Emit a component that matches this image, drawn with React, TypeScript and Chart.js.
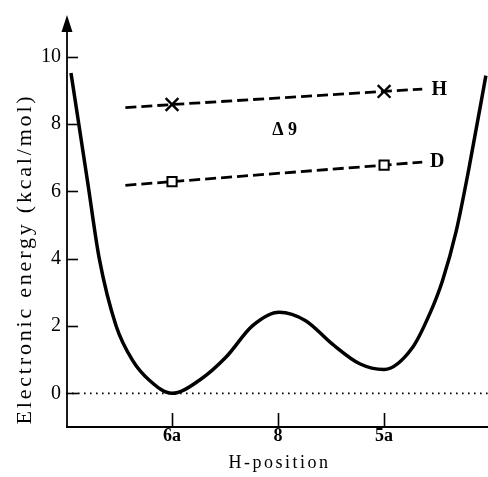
import { useEffect, useRef } from "react";
import { Chart, registerables } from "chart.js";

Chart.register(...registerables);

// ---- data ----
const categories = ["6a", "8", "5a"];
const categoryPositions = [1, 2, 3];
const yTickValues = [0, 2, 4, 6, 8, 10];

const curveX = [0.047, 0.204, 0.314, 0.472, 0.628, 0.786, 1.0, 1.258, 1.51, 1.76, 2.01, 2.26, 2.51, 2.77, 3.0, 3.27, 3.43, 3.55, 3.68, 3.8, 3.96];
const curveY = [9.52, 6.28, 4.0, 2.01, 0.98, 0.39, 0.0, 0.39, 1.08, 2.01, 2.41, 2.16, 1.47, 0.88, 0.71, 1.37, 2.36, 3.34, 4.82, 6.68, 9.44];

const hLineX = [0.56, 1, 3, 3.36];
const hLineY = [8.49, 8.58, 8.97, 9.04];
const hMarkerRadius = [0, 9, 9, 0];

const dLineX = [0.56, 1, 3, 3.36];
const dLineY = [6.18, 6.29, 6.78, 6.87];
const dMarkerRadius = [0, 6.5, 6.5, 0];

const zeroLineX = [0, 3.98];
const zeroLineY = [0, 0];

const noteTexts = ["H", "D", "Δ 9"];
const noteX = [3.52, 3.5, 1.946];
const noteY = [9.02, 6.88, 7.81];
const noteAlign: CanvasTextAlign[] = ["center", "center", "left"];
const noteSize = [20, 20, 18];

const xTitle = "H-position";
const yTitle = "Electronic energy (kcal/mol)";

const X_MIN = 0;
const X_MAX = 3.98;
const Y_MIN = -1;
const Y_MAX = 11.24;

const SERIF = "'Liberation Serif', 'Times New Roman', serif";

const toPts = (xs: number[], ys: number[]) => xs.map((x, i) => ({ x, y: ys[i] }));

const axesPlugin = {
  id: "customAxes",
  afterDraw(chart: any) {
    const ctx: CanvasRenderingContext2D = chart.ctx;
    const { left, right, top, bottom } = chart.chartArea;
    const xs = chart.scales.x;
    const ys = chart.scales.y;
    ctx.save();
    ctx.strokeStyle = "#000";
    ctx.fillStyle = "#000";
    // y axis line
    ctx.lineWidth = 1.8;
    ctx.beginPath();
    ctx.moveTo(left + 1, top + 12);
    ctx.lineTo(left + 1, bottom);
    ctx.stroke();
    // arrow head
    ctx.beginPath();
    ctx.moveTo(left + 1, top);
    ctx.lineTo(left - 4.5, top + 17);
    ctx.lineTo(left + 6.5, top + 17);
    ctx.closePath();
    ctx.fill();
    // x axis line
    ctx.lineWidth = 2;
    ctx.beginPath();
    ctx.moveTo(left, bottom);
    ctx.lineTo(right, bottom);
    ctx.stroke();
    // inward ticks
    ctx.lineWidth = 1.6;
    yTickValues.forEach((v) => {
      const py = Math.round(ys.getPixelForValue(v)) + 0.5;
      ctx.beginPath();
      ctx.moveTo(left + 1, py);
      ctx.lineTo(left + 12, py);
      ctx.stroke();
    });
    categoryPositions.forEach((v) => {
      const px = Math.round(xs.getPixelForValue(v)) + 0.5;
      ctx.beginPath();
      ctx.moveTo(px, bottom);
      ctx.lineTo(px, bottom - 14);
      ctx.stroke();
    });
    // titles
    (ctx as any).letterSpacing = "2.5px";
    ctx.font = `18px ${SERIF}`;
    ctx.textAlign = "center";
    ctx.textBaseline = "alphabetic";
    ctx.fillText(xTitle, xs.getPixelForValue(2) + 1.5, 468);
    ctx.save();
    (ctx as any).letterSpacing = "2.8px";
    ctx.font = `22px ${SERIF}`;
    ctx.translate(30.5, 259);
    ctx.rotate(-Math.PI / 2);
    ctx.fillText(yTitle, 0, 0);
    ctx.restore();
    // notes
    (ctx as any).letterSpacing = "0px";
    ctx.textBaseline = "middle";
    noteTexts.forEach((t, i) => {
      ctx.font = `bold ${noteSize[i]}px ${SERIF}`;
      ctx.textAlign = noteAlign[i];
      ctx.fillText(t, xs.getPixelForValue(noteX[i]), ys.getPixelForValue(noteY[i]));
    });
    ctx.restore();
  },
};

export default function App() {
  const ref = useRef<HTMLCanvasElement | null>(null);

  useEffect(() => {
    document.body.style.margin = "0";
    const canvas = ref.current;
    if (!canvas) return;
    const chart = new Chart(canvas, {
      type: "line",
      data: {
        datasets: [
          {
            data: toPts(zeroLineX, zeroLineY),
            borderColor: "#000",
            borderWidth: 1.6,
            borderDash: [1.6, 4.4],
            pointRadius: 0,
            tension: 0,
          },
          {
            data: toPts(curveX, curveY),
            borderColor: "#000",
            borderWidth: 3.5,
            pointRadius: 0,
            cubicInterpolationMode: "monotone",
          },
          {
            data: toPts(hLineX, hLineY),
            borderColor: "#000",
            borderWidth: 2.8,
            borderDash: [11, 5],
            pointStyle: "crossRot",
            pointRadius: hMarkerRadius,
            pointBorderWidth: 2.4,
            pointBorderColor: "#000",
            pointBackgroundColor: "#fff",
            tension: 0,
          },
          {
            data: toPts(dLineX, dLineY),
            borderColor: "#000",
            borderWidth: 2.8,
            borderDash: [11, 5],
            pointStyle: "rect",
            pointRadius: dMarkerRadius,
            pointBorderWidth: 2,
            pointBorderColor: "#000",
            pointBackgroundColor: "#fff",
            tension: 0,
          },
        ],
      },
      options: {
        animation: false,
        responsive: false,
        devicePixelRatio: 1,
        layout: { padding: { top: 12, right: 0, left: 0, bottom: 0 } },
        plugins: { legend: { display: false }, tooltip: { enabled: false } },
        scales: {
          x: {
            type: "linear",
            min: X_MIN,
            max: X_MAX,
            grid: { display: false, drawTicks: false },
            border: { display: false },
            afterFit: (s: any) => {
              s.height = 50;
            },
            afterBuildTicks: (s: any) => {
              s.ticks = categoryPositions.map((v) => ({ value: v }));
            },
            ticks: {
              padding: 0,
              color: "#000",
              maxRotation: 0,
              autoSkip: false,
              font: { family: SERIF, size: 18, weight: "bold", lineHeight: 1 },
              callback: (v: any) => {
                const i = categoryPositions.indexOf(Number(v));
                return i >= 0 ? categories[i] : "";
              },
            },
          },
          y: {
            type: "linear",
            min: Y_MIN,
            max: Y_MAX,
            grid: { display: false, drawTicks: false },
            border: { display: false },
            afterFit: (s: any) => {
              s.width = 66;
            },
            afterBuildTicks: (s: any) => {
              s.ticks = yTickValues.map((v) => ({ value: v }));
            },
            ticks: {
              padding: 5,
              color: "#000",
              font: { family: SERIF, size: 20, lineHeight: 1 },
            },
          },
        },
      },
      plugins: [axesPlugin],
    } as any);
    return () => chart.destroy();
  }, []);

  return (
    <div style={{ width: 488, height: 477 }}>
      <canvas ref={ref} width={488} height={477} />
    </div>
  );
}
